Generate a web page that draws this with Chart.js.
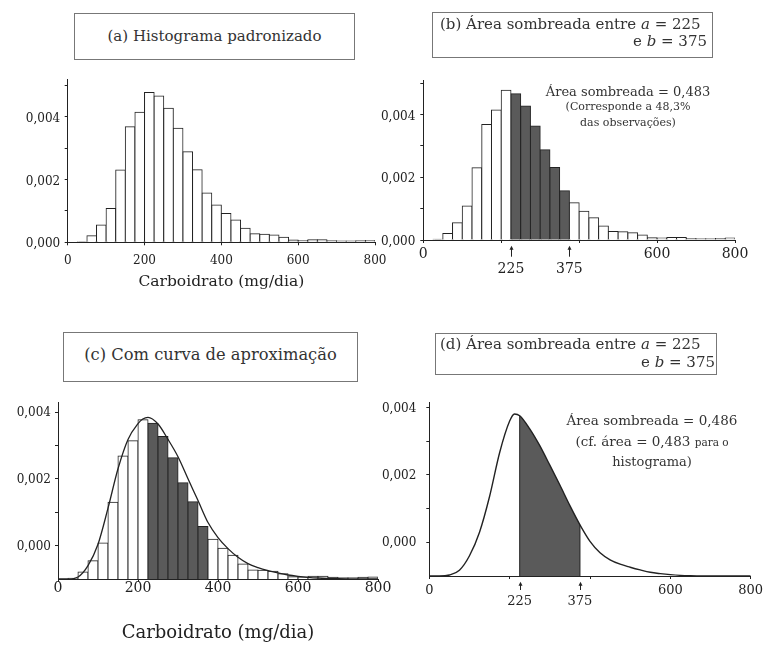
<!DOCTYPE html>
<html lang="pt">
<head>
<meta charset="utf-8">
<title>Carboidrato (mg/dia)</title>
<script src="https://cdn.jsdelivr.net/npm/chart.js@4.4.1/dist/chart.umd.min.js"></script>
<style>
  html, body { margin: 0; padding: 0; background: #fff; }
  #page { position: relative; width: 770px; height: 647px; overflow: hidden;
          font-family: 'DejaVu Serif', serif; color: #333; }
  canvas { position: absolute; }
  .box { position: absolute; box-sizing: border-box; border: 1px solid #777; }
  .txt { position: absolute; white-space: nowrap; line-height: 1; }
  .c { text-align: center; }
  .small { font-size: 10.5px; }
</style>
</head>
<body>
<div id="page">
  <canvas id="cA" width="395" height="240" style="left:0;top:60px"></canvas>
  <canvas id="cB" width="395" height="240" style="left:375px;top:60px"></canvas>
  <canvas id="cC" width="395" height="262" style="left:0;top:385px"></canvas>
  <canvas id="cD" width="395" height="262" style="left:375px;top:385px"></canvas>

  <div class="box" style="left:74px;top:13px;width:281px;height:47px"></div>
  <div class="txt c" style="left:74px;width:281px;top:29px;font-size:15px">(a) Histograma padronizado</div>

  <div class="box" style="left:432px;top:12px;width:281px;height:46px"></div>
  <div class="txt" style="left:440px;top:17px;font-size:15px">(b) Área sombreada entre <i>a</i> = 225</div>
  <div class="txt" style="right:63px;top:34px;font-size:15px">e <i>b</i> = 375</div>

  <div class="box" style="left:63px;top:332px;width:295px;height:50px"></div>
  <div class="txt c" style="left:63px;width:295px;top:347px;font-size:16.3px">(c) Com curva de aproximação</div>

  <div class="box" style="left:435px;top:333px;width:282px;height:42px"></div>
  <div class="txt" style="left:440px;top:337px;font-size:15px">(d) Área sombreada entre <i>a</i> = 225</div>
  <div class="txt" style="right:55px;top:355px;font-size:15px">e <i>b</i> = 375</div>

  <div class="txt c" style="left:508px;width:240px;top:85px;font-size:13px">Área sombreada = 0,483</div>
  <div class="txt c" style="left:508px;width:240px;top:101px;font-size:11px">(Corresponde a 48,3%</div>
  <div class="txt c" style="left:508px;width:240px;top:117px;font-size:11px">das observações)</div>

  <div class="txt c" style="left:532px;width:240px;top:414px;font-size:13.5px">Área sombreada = 0,486</div>
  <div class="txt c" style="left:532px;width:240px;top:435px;font-size:13.5px">(cf. área = 0,483 <span class="small">para o</span></div>
  <div class="txt c" style="left:532px;width:240px;top:455px;font-size:13px">histograma)</div>
</div>

<script>
// Densidade (por mg/dia) de cada classe de 25 mg/dia, de 0 a 800
const BIN_WIDTH = 25;
const DENSITY = [
  0, 0.00002, 0.00021, 0.00055, 0.00108, 0.0023, 0.00368, 0.00414,
  0.00477, 0.00466, 0.00427, 0.00363, 0.00288, 0.00231, 0.00157, 0.00119,
  0.00092, 0.00071, 0.00045, 0.00027, 0.00026, 0.00023, 0.00016, 0.00007,
  0.00006, 0.00008, 0.00008, 0.00005, 0.00004, 0.00004, 0.00005, 0.00006
];

// Curvas de aproximação (c) e (d), amostradas nos mesmos pontos
const CURVE_X = [0, 25, 50, 75, 100, 125, 150, 175, 200, 212, 225, 250, 275, 300, 325,
  350, 375, 400, 425, 450, 475, 500, 525, 550, 575, 600, 625, 650, 700, 800];
const CURVE_C_Y = [0, 0, 0.00006, 0.0004, 0.00104, 0.00212, 0.0033, 0.00418, 0.00465,
  0.00479, 0.00484, 0.00464, 0.00418, 0.00366, 0.003, 0.00235, 0.00169, 0.00124,
  0.00091, 0.00065, 0.00046, 0.00034, 0.00025, 0.00018, 0.00012, 0.00008, 0.00005,
  0.00003, 0.00001, 0];
const CURVE_D_Y = [0, 0, 0.00003, 0.00017, 0.0006, 0.0013, 0.00236, 0.00366, 0.0046,
  0.00481, 0.00476, 0.00437, 0.00387, 0.00329, 0.0027, 0.00209, 0.00152, 0.00103,
  0.00069, 0.00048, 0.00035, 0.00026, 0.00018, 0.00011, 0.00007, 0.00004, 0.00002,
  0.00001, 0, 0];

// Intervalo sombreado e marcas sob o eixo
const SHADE_A = 225;
const SHADE_B = 375;
const ARROW_AT = [225, 375];
const ARROW_LABELS = ['225', '375'];

// Eixos
const X_TICKS = [0, 200, 400, 600, 800];
const X_LABELS_FULL = ['0', '200', '400', '600', '800'];
const X_LABELS_SPARSE = ['0', '', '', '600', '800'];
const Y_TICKS_AB = [0, 0.001, 0.002, 0.003, 0.004, 0.005];
const Y_LABELS_AB = ['0,000', '', '0,002', '', '0,004', ''];
const Y_TICKS_CD = [0.001, 0.002, 0.003, 0.004, 0.005];
const Y_LABELS_CD = ['0,000', '', '0,002', '', '0,004'];

const SERIF = "'DejaVu Serif', serif";
const INK = '#222';
const SHADE = '#5a5a5a';
const X_TITLE = 'Carboidrato (mg/dia)';

// O preenchimento é desenhado no beforeDatasetDraw do Filler, por isso o recorte
// começa antes de todos os datasets e termina depois do dataset sombreado.
const clipShade = {
  id: 'clipShade',
  beforeDatasetsDraw(chart) {
    const ds = chart.data.datasets.find(d => d.shadeRange);
    if (!ds) return;
    const { ctx, chartArea, scales: { x } } = chart;
    const x0 = x.getPixelForValue(ds.shadeRange[0]);
    const x1 = x.getPixelForValue(ds.shadeRange[1]);
    ctx.save();
    ctx.beginPath();
    ctx.rect(x0, chartArea.top, x1 - x0, chartArea.bottom - chartArea.top);
    ctx.clip();
  },
  afterDatasetDraw(chart, args) {
    if (chart.data.datasets[args.index].shadeRange) chart.ctx.restore();
  }
};

// setas com os valores a e b abaixo do eixo x
function arrowMarks(o) {
  return {
    id: 'arrowMarks',
    afterDraw(chart) {
      const { ctx, chartArea, scales: { x } } = chart;
      ctx.save();
      ctx.strokeStyle = INK;
      ctx.fillStyle = INK;
      ctx.lineWidth = 1;
      ctx.font = o.font + 'px ' + SERIF;
      ctx.textAlign = 'center';
      ctx.textBaseline = 'middle';
      ARROW_AT.forEach((v, i) => {
        const px = Math.round(x.getPixelForValue(v)) + 0.5;
        const top = chartArea.bottom + o.head;
        const bot = chartArea.bottom + o.tail;
        ctx.beginPath();
        ctx.moveTo(px, bot);
        ctx.lineTo(px, top + 2);
        ctx.stroke();
        ctx.beginPath();
        ctx.moveTo(px, top);
        ctx.lineTo(px - 2, top + 4);
        ctx.lineTo(px + 2, top + 4);
        ctx.closePath();
        ctx.fill();
        ctx.fillText(ARROW_LABELS[i], x.getPixelForValue(v), chartArea.bottom + o.label);
      });
      ctx.restore();
    }
  };
}

// bordas verticais da área sombreada sob a curva
const shadeEdges = {
  id: 'shadeEdges',
  afterDatasetsDraw(chart) {
    const { ctx, scales: { x, y } } = chart;
    ctx.save();
    ctx.strokeStyle = INK;
    ctx.lineWidth = 1;
    [SHADE_A, SHADE_B].forEach(v => {
      const i = CURVE_X.indexOf(v);
      const px = x.getPixelForValue(v);
      ctx.beginPath();
      ctx.moveTo(px, y.getPixelForValue(0));
      ctx.lineTo(px, y.getPixelForValue(CURVE_D_Y[i]));
      ctx.stroke();
    });
    ctx.restore();
  }
};

function options(p) {
  const grid = { drawOnChartArea: false, drawTicks: true, tickLength: 3, color: INK, offset: false };
  const border = { display: true, color: INK, width: 1 };
  return {
    responsive: false,
    animation: false,
    devicePixelRatio: 1,
    layout: { padding: { left: 0, top: p.padTop, right: p.padRight, bottom: 0 } },
    plugins: { legend: { display: false }, tooltip: { enabled: false } },
    scales: {
      x: {
        type: 'linear', min: 0, max: 800, offset: false,
        afterBuildTicks: s => { s.ticks = X_TICKS.map(v => ({ value: v })); },
        afterFit: s => { s.height = p.xHeight; },
        grid, border,
        ticks: {
          color: INK, font: { family: SERIF, size: p.xFont }, padding: p.xPad,
          maxRotation: 0, autoSkip: false, callback: (v, i) => p.xLabels[i]
        },
        title: p.title ? {
          display: true, text: X_TITLE, color: INK,
          font: { family: SERIF, size: p.titleSize },
          padding: { top: 0, bottom: p.titlePad }
        } : { display: false }
      },
      y: {
        type: 'linear', min: 0, max: p.yMax,
        afterBuildTicks: s => { s.ticks = p.yTicks.map(v => ({ value: v })); },
        afterFit: s => { s.width = p.yWidth; },
        grid, border,
        ticks: {
          color: INK, font: { family: SERIF, size: 12 }, padding: p.yPad,
          labelOffset: p.yShift, autoSkip: false, callback: (v, i) => p.yLabels[i]
        }
      }
    }
  };
}

function histogram(shaded) {
  return {
    type: 'bar',
    data: DENSITY.map((d, i) => ({ x: i * BIN_WIDTH + BIN_WIDTH / 2, y: d })),
    backgroundColor: c => {
      const left = c.dataIndex * BIN_WIDTH;
      return shaded && left >= SHADE_A && left < SHADE_B ? SHADE : '#fff';
    },
    borderColor: INK,
    borderWidth: 1,
    borderSkipped: 'start',
    inflateAmount: 0.5,
    barPercentage: 1,
    categoryPercentage: 1,
    order: 2
  };
}

function curve(ys, width) {
  return {
    type: 'line',
    data: CURVE_X.map((x, i) => ({ x, y: ys[i] })),
    borderColor: INK,
    borderWidth: width,
    pointRadius: 0,
    cubicInterpolationMode: 'monotone',
    fill: false,
    order: 1
  };
}

// (a) histograma padronizado
new Chart(document.getElementById('cA'), {
  type: 'bar',
  data: { datasets: [histogram(false)] },
  options: options({
    padTop: 19, padRight: 20, xHeight: 57.7, yWidth: 67.7, yMax: 0.0052,
    xFont: 12, xPad: 8, xLabels: X_LABELS_FULL, yTicks: Y_TICKS_AB, yLabels: Y_LABELS_AB,
    yPad: 4.5, yShift: 2, title: true, titleSize: 15.5, titlePad: 8.7
  })
});

// (b) área sombreada entre a e b
new Chart(document.getElementById('cB'), {
  type: 'bar',
  data: { datasets: [histogram(true)] },
  options: options({
    padTop: 20, padRight: 35, xHeight: 60, yWidth: 48.3, yMax: 0.0051,
    xFont: 14, xPad: 3, xLabels: X_LABELS_SPARSE, yTicks: Y_TICKS_AB, yLabels: Y_LABELS_AB,
    yPad: 5, yShift: 2, title: false
  }),
  plugins: [arrowMarks({ font: 14, head: 5.7, tail: 16.7, label: 29 })]
});

// (c) histograma com curva de aproximação
new Chart(document.getElementById('cC'), {
  type: 'bar',
  data: { datasets: [histogram(true), curve(CURVE_C_Y, 1.3)] },
  options: options({
    padTop: 17, padRight: 17, xHeight: 68, yWidth: 58, yMax: 0.0053,
    xFont: 14, xPad: -2, xLabels: X_LABELS_FULL, yTicks: Y_TICKS_CD, yLabels: Y_LABELS_CD,
    yPad: 4, yShift: 1, title: true, titleSize: 18, titlePad: 3
  })
});

// (d) área sob a curva entre a e b
const shadeArea = Object.assign(curve(CURVE_D_Y, 0), {
  fill: 'origin', backgroundColor: SHADE, shadeRange: [SHADE_A, SHADE_B], order: 2
});
new Chart(document.getElementById('cD'), {
  type: 'line',
  data: { datasets: [curve(CURVE_D_Y, 1.4), shadeArea] },
  options: options({
    padTop: 16.7, padRight: 19.3, xHeight: 71, yWidth: 54.3, yMax: 0.00516,
    xFont: 13, xPad: 4, xLabels: X_LABELS_SPARSE, yTicks: Y_TICKS_CD, yLabels: Y_LABELS_CD,
    yPad: 10, yShift: 1, title: false
  }),
  plugins: [clipShade, shadeEdges, arrowMarks({ font: 13, head: 5.7, tail: 14, label: 26 })]
});
</script>
</body>
</html>
